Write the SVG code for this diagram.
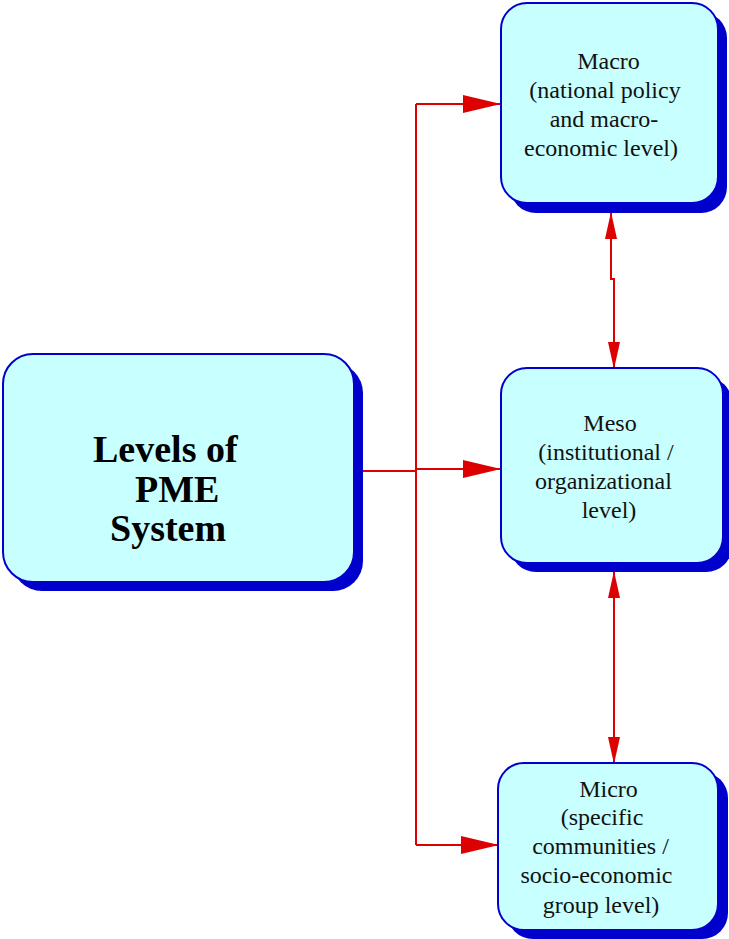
<svg xmlns="http://www.w3.org/2000/svg" width="729" height="939" viewBox="0 0 729 939">
  <style>
    .shadow { fill: #0000cc; }
    .box { fill: #c8ffff; stroke: #0000cc; stroke-width: 2; }
    .label { font-family: "Liberation Serif", "Times New Roman", serif; font-size: 24px; fill: #111; text-anchor: middle; }
    .title { font-family: "Liberation Serif", "Times New Roman", serif; font-size: 38px; font-weight: bold; fill: #000; }
    .link { fill: none; stroke: #dd0000; stroke-width: 2; }
  </style>
  <defs>
    <marker id="arrowH" viewBox="0 0 38 18" refX="37" refY="9" markerWidth="38" markerHeight="18" markerUnits="userSpaceOnUse" orient="auto-start-reverse">
      <path d="M0,0 L38,9 L0,18 z" fill="#dd0000"/>
    </marker>
    <marker id="arrowV" viewBox="0 0 27 12" refX="26" refY="6" markerWidth="27" markerHeight="12" markerUnits="userSpaceOnUse" orient="auto-start-reverse">
      <path d="M0,0 L27,6 L0,12 z" fill="#dd0000"/>
    </marker>
  </defs>

  <g id="connectors">
    <!-- trunk from the system box -->
    <path class="link" d="M363,471 H416"/>
    <path class="link" d="M416,104 V845"/>
    <path class="link" d="M416,104 H500" marker-end="url(#arrowH)"/>
    <path class="link" d="M416,469 H500" marker-end="url(#arrowH)"/>
    <path class="link" d="M416,845 H498" marker-end="url(#arrowH)"/>
    <!-- level-to-level links -->
    <path class="link" d="M611,213 V279 H614 V368" marker-start="url(#arrowV)" marker-end="url(#arrowV)"/>
    <path class="link" d="M614,572 V763" marker-start="url(#arrowV)" marker-end="url(#arrowV)"/>
  </g>

  <g id="system">
    <rect class="shadow" x="12" y="363" width="351" height="228" rx="30"/>
    <rect class="box" x="3" y="354" width="351" height="228" rx="30"/>
    <text class="title" x="93" y="462">Levels of</text>
    <text class="title" x="135" y="502">PME</text>
    <text class="title" x="110" y="541">System</text>
  </g>

  <g id="macro">
    <rect class="shadow" x="510" y="12" width="217" height="201" rx="26"/>
    <rect class="box" x="501" y="3" width="217" height="200" rx="26"/>
    <text class="label" x="608.5" y="69">Macro</text>
    <text class="label" x="605" y="98">(national policy</text>
    <text class="label" x="604" y="127">and macro-</text>
    <text class="label" x="601" y="156">economic level)</text>
  </g>

  <g id="meso">
    <rect class="shadow" x="510" y="377" width="222" height="195" rx="26"/>
    <rect class="box" x="501" y="368" width="222" height="195" rx="26"/>
    <text class="label" x="610" y="431">Meso</text>
    <text class="label" x="606" y="460">(institutional /</text>
    <text class="label" x="603.5" y="489">organizational</text>
    <text class="label" x="609" y="518">level)</text>
  </g>

  <g id="micro">
    <rect class="shadow" x="507" y="772" width="221" height="167" rx="26"/>
    <rect class="box" x="498" y="763" width="220" height="167" rx="26"/>
    <text class="label" x="608.5" y="797">Micro</text>
    <text class="label" x="602" y="825">(specific</text>
    <text class="label" x="600.5" y="854">communities /</text>
    <text class="label" x="596.5" y="883">socio-economic</text>
    <text class="label" x="601" y="913">group level)</text>
  </g>
</svg>
